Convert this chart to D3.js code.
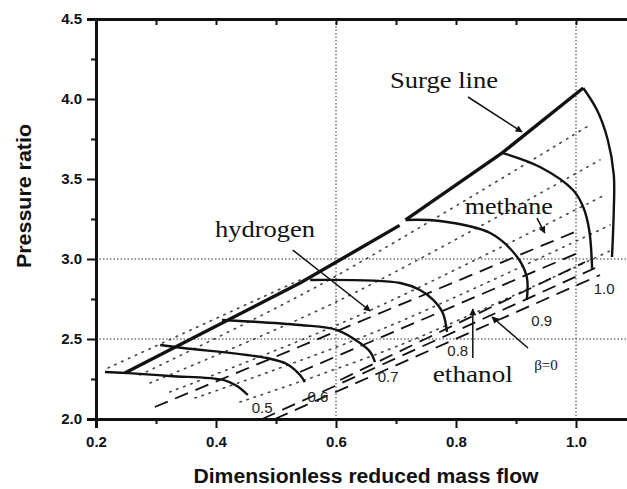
<!DOCTYPE html>
<html><head><meta charset="utf-8">
<script src="https://cdn.jsdelivr.net/npm/d3@7"></script>
<style>body{margin:0;background:#fff}svg{display:block}</style>
</head><body><svg id="c" width="627" height="489"></svg>
<script>
// ---------- data ----------
const xTicks = [0.2, 0.4, 0.6, 0.8, 1.0];
const xMinorTicks = [0.3, 0.5, 0.7, 0.9];
const xTopTicks = [0.3, 0.4, 0.5, 0.6, 0.7, 0.8, 0.9, 1.0];
const yTicks = [2.0, 2.5, 3.0, 3.5, 4.0, 4.5];
const yMinorTicks = [2.25, 2.75, 3.25, 3.75, 4.25];
const gridX = [0.6, 1.0];
const gridY = [2.5, 3.0];

const surgeLower = [[0.248, 2.288], [0.54, 2.85], [0.706, 3.21]];
const surgeUpper = [[0.716, 3.244], [0.877, 3.663], [1.012, 4.069]];

const speed05 = [[0.215, 2.294], [0.248, 2.288], [0.323, 2.269], [0.412, 2.244], [0.435, 2.206], [0.453, 2.15]];
const speed06 = [[0.307, 2.4625], [0.345, 2.444], [0.485, 2.381], [0.518, 2.344], [0.54, 2.275], [0.548, 2.231]];
const speed07 = [[0.41, 2.619], [0.54, 2.5875], [0.602, 2.556], [0.64, 2.475], [0.657, 2.419], [0.665, 2.356]];
const speed08 = [[0.557, 2.869], [0.707, 2.85], [0.74, 2.806], [0.762, 2.744], [0.778, 2.6625], [0.785, 2.544]];
const speed09 = [[0.716, 3.244], [0.773, 3.2375], [0.857, 3.1625], [0.902, 3.0125], [0.918, 2.8875], [0.918, 2.744]];
const speed10 = [[0.877, 3.663], [0.94, 3.575], [0.995, 3.431], [1.012, 3.325], [1.022, 3.181], [1.027, 2.931]];
const speed11 = [[1.012, 4.069], [1.035, 3.931], [1.053, 3.744], [1.063, 3.525], [1.063, 3.306], [1.06, 3.0125]];

const dotted0 = [[0.22, 2.319], [0.54, 2.869]];
const dotted1 = [[0.273, 2.275], [0.573, 2.8375], [1.023, 3.8375]];
const dotted2 = [[0.29, 2.225], [0.607, 2.744], [1.04, 3.619]];
const dotted3 = [[0.323, 2.169], [0.64, 2.65], [1.048, 3.4]];
const dotted4 = [[0.365, 2.131], [0.673, 2.556], [1.057, 3.2125]];
const dotted5 = [[0.44, 2.106], [0.707, 2.4625], [1.06, 3.056]];

const dashed1 = [[0.298, 2.075], [0.998, 3.169]];
const dashed2 = [[0.54, 2.294], [1.007, 3.044]];
const dashed3 = [[0.607, 2.244], [1.015, 2.981]];
const dashed4 = [[0.477, 2.0], [1.032, 2.944]];
const dashed5 = [[0.498, 2.0], [1.04, 2.9]];

const speedNames = ["0.5", "0.6", "0.7", "0.8", "0.9", "1.0"];
const speedLabelAt = [[0.477, 2.0375], [0.57, 2.106], [0.687, 2.231], [0.803, 2.394], [0.943, 2.581], [1.047, 2.78]];

const noteTexts = ["Surge line", "hydrogen", "methane", "ethanol"];
const noteAt = [[0.78, 4.069], [0.4817, 3.1375], [0.888, 3.281], [0.828, 2.231]];
const arrows = [
  [[0.82, 4.0125], [0.91, 3.794]],
  [[0.528, 3.056], [0.657, 2.675]],
  [[0.935, 3.256], [0.948, 3.1625]],
  [[0.828, 2.381], [0.828, 2.6875]],
  [[0.92, 2.444], [0.86, 2.6375]]
];
const betaText = "\u03b2=0";
const betaAt = [0.95, 2.306];
const xTitle = "Dimensionless reduced mass flow";
const yTitle = "Pressure ratio";

// ---------- drawing ----------
const svg = d3.select("#c");
const x = d3.scaleLinear().domain([0.2, 1.1]).range([96, 636]);
const y = d3.scaleLinear().domain([2.0, 4.5]).range([419, 19]);
const ink = "#111";

const defs = svg.append("defs");
defs.append("marker").attr("id", "ah").attr("viewBox", "0 0 10 10")
  .attr("refX", 9).attr("refY", 5).attr("markerWidth", 8).attr("markerHeight", 7)
  .attr("markerUnits", "userSpaceOnUse").attr("orient", "auto")
  .append("path").attr("d", "M0,0L10,5L0,10z").attr("fill", ink);

// grid
const grid = svg.append("g").attr("stroke", "#333").attr("stroke-width", 1).attr("stroke-dasharray", "1.5,2");
grid.selectAll("line.gx").data(gridX).join("line")
  .attr("x1", d => x(d)).attr("x2", d => x(d)).attr("y1", y(4.5)).attr("y2", y(2.0));
grid.selectAll("line.gy").data(gridY).join("line")
  .attr("y1", d => y(d)).attr("y2", d => y(d)).attr("x1", x(0.2)).attr("x2", x(1.1));

const lineLin = d3.line().x(d => x(d[0])).y(d => y(d[1]));
const lineCurve = d3.line().x(d => x(d[0])).y(d => y(d[1])).curve(d3.curveCatmullRom.alpha(0.5));

// dotted lines
svg.append("g").selectAll("path").data([dotted0, dotted1, dotted2, dotted3, dotted4, dotted5]).join("path")
  .attr("d", lineCurve).attr("fill", "none").attr("stroke", "#444")
  .attr("stroke-width", 1.6).attr("stroke-dasharray", "1.5,6").attr("stroke-linecap", "round");

// dashed lines
svg.append("g").selectAll("path").data([dashed1, dashed2, dashed3, dashed4, dashed5]).join("path")
  .attr("d", lineLin).attr("fill", "none").attr("stroke", ink)
  .attr("stroke-width", 1.8).attr("stroke-dasharray", "14,8");

// speed lines
svg.append("g").selectAll("path").data([speed05, speed06, speed07, speed08, speed09, speed10, speed11]).join("path")
  .attr("d", lineCurve).attr("fill", "none").attr("stroke", ink).attr("stroke-width", 2.4);

// surge line
svg.append("g").selectAll("path").data([surgeLower, surgeUpper]).join("path")
  .attr("d", lineLin).attr("fill", "none").attr("stroke", ink).attr("stroke-width", 3.4)
  .attr("stroke-linejoin", "round");

// axes
const fmt = d3.format(".1f");
svg.append("g").attr("transform", `translate(0,${y(2.0)})`)
  .call(d3.axisBottom(x).tickValues(xTicks).tickFormat(fmt).tickSize(9).tickPadding(8));
svg.append("g").attr("transform", `translate(0,${y(2.0)})`)
  .call(d3.axisBottom(x).tickValues(xMinorTicks).tickFormat("").tickSize(5))
  .select(".domain").remove();
svg.append("g").attr("transform", `translate(${x(0.2)},0)`)
  .call(d3.axisLeft(y).tickValues(yTicks).tickFormat(fmt).tickSize(9).tickPadding(5));
svg.append("g").attr("transform", `translate(${x(0.2)},0)`)
  .call(d3.axisLeft(y).tickValues(yMinorTicks).tickFormat("").tickSize(5))
  .select(".domain").remove();
svg.append("g").attr("transform", `translate(0,${y(4.5)})`)
  .call(d3.axisTop(x).tickValues(xTopTicks).tickFormat("").tickSize(-6).tickSizeOuter(0));

svg.selectAll(".domain").attr("stroke", ink).attr("stroke-width", 3);
svg.selectAll(".tick line").attr("stroke", ink).attr("stroke-width", 2);
svg.selectAll(".tick text").attr("font-family", "Liberation Sans, Arial, sans-serif")
  .attr("font-weight", "bold").attr("font-size", 15).attr("fill", ink);

// axis titles
svg.append("text").attr("x", 366).attr("y", 483).attr("text-anchor", "middle")
  .attr("font-family", "Liberation Sans, Arial, sans-serif").attr("font-weight", "bold")
  .attr("font-size", 20).attr("textLength", 345).attr("lengthAdjust", "spacingAndGlyphs")
  .attr("fill", ink).text(xTitle);
svg.append("text").attr("transform", "translate(31,196) rotate(-90)").attr("text-anchor", "middle")
  .attr("font-family", "Liberation Sans, Arial, sans-serif").attr("font-weight", "bold")
  .attr("font-size", 20).attr("textLength", 144).attr("lengthAdjust", "spacingAndGlyphs")
  .attr("fill", ink).text(yTitle);

// speed labels
svg.append("g").selectAll("text").data(speedNames).join("text")
  .attr("x", (d, i) => x(speedLabelAt[i][0])).attr("y", (d, i) => y(speedLabelAt[i][1]))
  .attr("text-anchor", "middle").attr("font-family", "Liberation Sans, Arial, sans-serif")
  .attr("font-size", 15).attr("fill", "#222").text(d => d);

// notes
const noteW = [108, 100, 88, 80];
svg.append("g").selectAll("text").data(noteTexts).join("text")
  .attr("x", (d, i) => x(noteAt[i][0])).attr("y", (d, i) => y(noteAt[i][1]))
  .attr("text-anchor", "middle").attr("font-family", "Liberation Serif, Times New Roman, serif")
  .attr("font-size", 23).attr("textLength", (d, i) => noteW[i]).attr("lengthAdjust", "spacingAndGlyphs")
  .attr("fill", ink).text(d => d);
svg.append("text").attr("x", x(betaAt[0])).attr("y", y(betaAt[1])).attr("text-anchor", "middle")
  .attr("font-family", "Liberation Serif, Times New Roman, serif").attr("font-size", 15)
  .attr("fill", ink).text(betaText);

// arrows
svg.append("g").selectAll("path").data(arrows).join("path")
  .attr("d", lineLin).attr("fill", "none").attr("stroke", ink).attr("stroke-width", 1.5)
  .attr("marker-end", "url(#ah)");
</script></body></html>
